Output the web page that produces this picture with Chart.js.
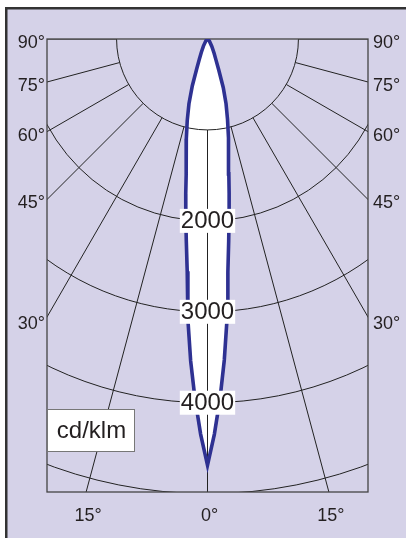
<!DOCTYPE html>
<html>
<head>
<meta charset="utf-8">
<script src="https://cdn.jsdelivr.net/npm/chart.js@4.4.1/dist/chart.umd.min.js"></script>
<style>
html, body { margin: 0; padding: 0; background: #fff; }
#wrap { position: relative; width: 406px; height: 538px; }
</style>
</head>
<body>
<div id="wrap"><canvas id="lightChart"></canvas></div>
<script>
/* ====== data (cd/klm, angle 0 = straight down) ===== */
const angles = [-90, -60, -40, -30, -25, -22, -20, -18, -16, -14, -12, -10, -9, -8, -7, -6, -5, -4, -3, -2, -1,
    0, 1, 2, 3, 4, 5, 6, 7, 8, 9, 10, 12, 14, 16, 18, 20, 22, 25, 30, 40, 60, 90];
const planeC0 = [0, 10, 30, 90, 160, 240, 340, 540, 740, 920, 1120, 1340, 1510, 1720, 1960, 2230, 2560, 3090, 3540, 3950, 4340,
    4680, 4340, 3950, 3530, 3080, 2570, 2230, 1950, 1710, 1500, 1330, 1110, 910, 740, 560, 360, 250, 170, 95, 35, 10, 0];
const planeC90 = [0, 10, 32, 95, 165, 250, 350, 555, 755, 935, 1140, 1360, 1535, 1750, 1990, 2265, 2600, 3130, 3580, 3990, 4370,
    4690, 4370, 3990, 3570, 3120, 2610, 2265, 1985, 1740, 1525, 1350, 1130, 925, 755, 575, 370, 260, 175, 100, 38, 10, 0];

const circleValues = [1000, 2000, 3000, 4000, 5000];
const circleLabels = [2000, 3000, 4000];
const spokeAngles = [-90, -75, -60, -45, -30, -15, 0, 15, 30, 45, 60, 75, 90];
const sideLabels = [90, 75, 60, 45, 30];
const bottomLabels = [-15, 0, 15];
const unitLabel = 'cd/klm';

const panelColor = '#d5d2e8';
const inkColor = '#231f20';
const fontFamily = '"Liberation Sans", Arial, sans-serif';

function toXY(vals) {
    return angles.map((a, i) => {
        const t = a * Math.PI / 180;
        return {x: vals[i] * Math.sin(t), y: -vals[i] * Math.cos(t)};
    });
}

/* ====== grid, frame and labels ===== */
const polarGrid = {
    id: 'polarGrid',
    beforeDraw(chart) {
        const ctx = chart.ctx;
        ctx.save();
        ctx.fillStyle = '#fff';
        ctx.fillRect(0, 0, chart.width, chart.height);
        ctx.fillStyle = panelColor;
        ctx.fillRect(5, 7, chart.width - 5, chart.height - 7);
        ctx.fillStyle = '#333';
        ctx.fillRect(5, 7, 2.5, chart.height - 7);
        ctx.fillRect(5, 7, chart.width - 5, 2.5);
        ctx.restore();
    },
    beforeDatasetsDraw(chart) {
        const {ctx, chartArea: a, scales: {x, y}} = chart;
        const cx = x.getPixelForValue(0), cy = y.getPixelForValue(0);
        const px = v => x.getPixelForValue(v) - cx;

        ctx.save();
        // white inside the curve
        const pts = chart.getDatasetMeta(0).data;
        ctx.beginPath();
        pts.forEach((p, i) => i ? ctx.lineTo(p.x, p.y) : ctx.moveTo(p.x, p.y));
        ctx.closePath();
        ctx.fillStyle = '#fff';
        ctx.fill();

        ctx.beginPath();
        ctx.rect(a.left, a.top, a.right - a.left, a.bottom - a.top);
        ctx.clip();
        ctx.strokeStyle = '#222';
        ctx.lineWidth = 1;
        circleValues.forEach(v => {
            ctx.beginPath();
            ctx.arc(cx, cy, px(v), 0, Math.PI);
            ctx.stroke();
        });
        const r0 = px(circleValues[0]), r1 = px(20000);
        spokeAngles.forEach(d => {
            const t = d * Math.PI / 180;
            ctx.beginPath();
            ctx.moveTo(cx + r0 * Math.sin(t), cy + r0 * Math.cos(t));
            ctx.lineTo(cx + r1 * Math.sin(t), cy + r1 * Math.cos(t));
            ctx.stroke();
        });
        ctx.restore();

        ctx.save();
        ctx.strokeStyle = '#444';
        ctx.lineWidth = 1.3;
        ctx.strokeRect(a.left, a.top, a.right - a.left, a.bottom - a.top);
        ctx.restore();
    },
    afterDatasetsDraw(chart) {
        const {ctx, chartArea: a, scales: {x, y}} = chart;
        const cx = x.getPixelForValue(0), cy = y.getPixelForValue(0);
        const px = v => x.getPixelForValue(v) - cx;
        ctx.save();
        ctx.fillStyle = inkColor;
        ctx.textBaseline = 'middle';

        // circle values
        ctx.font = '24px ' + fontFamily;
        ctx.textAlign = 'center';
        circleLabels.forEach(v => {
            const ty = cy + px(v);
            const w = ctx.measureText(String(v)).width + 2;
            ctx.fillStyle = '#fff';
            ctx.fillRect(cx - w / 2, ty - 12, w, 24);
            ctx.fillStyle = inkColor;
            ctx.fillText(String(v), cx, ty + 1);
        });

        // side angle labels
        ctx.font = '18px ' + fontFamily;
        sideLabels.forEach(d => {
            const t = d * Math.PI / 180;
            const yl = d === 90 ? cy : cy + (cx - a.left) / Math.tan(t);
            const yr = d === 90 ? cy : cy + (a.right - cx) / Math.tan(t);
            const off = d === 30 ? 7 : 4;
            ctx.textAlign = 'right';
            ctx.fillText(d + '°', a.left - 2, yl + off);
            ctx.textAlign = 'left';
            ctx.fillText(d + '°', a.right + 5, yr + off);
        });

        // bottom angle labels
        ctx.textAlign = 'center';
        bottomLabels.forEach(d => {
            const t = d * Math.PI / 180;
            const bx = cx + (a.bottom - cy) * Math.tan(t);
            ctx.fillText(Math.abs(d) + '°', bx + 2, a.bottom + 24);
        });

        // unit box
        ctx.font = '24px ' + fontFamily;
        const bx = a.left, by = a.bottom - 83, bw = 87, bh = 42;
        ctx.fillStyle = '#fff';
        ctx.fillRect(bx, by, bw, bh);
        ctx.strokeStyle = '#777';
        ctx.lineWidth = 1;
        ctx.strokeRect(bx + 0.5, by + 0.5, bw, bh);
        ctx.fillStyle = inkColor;
        ctx.fillText(unitLabel, bx + bw / 2 + 1, by + bh / 2 + 1);
        ctx.restore();
    }
};

/* ====== chart ===== */
const lightConfig = {
    type: 'scatter',
    data: {
        datasets: [
            {
                data: toXY(planeC0),
                showLine: true,
                borderColor: '#2e3192',
                borderWidth: 3.6,
                pointRadius: 0,
                fill: false,
            },
            {
                data: toXY(planeC90),
                showLine: true,
                borderColor: '#c2306e',
                borderWidth: 1.2,
                pointRadius: 0,
                fill: false,
            }
        ]
    },
    options: {
        responsive: true,
        maintainAspectRatio: false,
        animation: false,
        layout: {
            padding: {left: 47, right: 38, top: 39, bottom: 46}
        },
        scales: {
            x: {type: 'linear', min: -1765, max: 1765, display: false},
            y: {type: 'linear', min: -4975, max: 0, display: false}
        },
        plugins: {
            legend: {display: false},
            tooltip: {enabled: false}
        }
    },
    plugins: [polarGrid]
};

const lightChart = new Chart(
    document.querySelector('#lightChart'),
    lightConfig
);
</script>
</body>
</html>
